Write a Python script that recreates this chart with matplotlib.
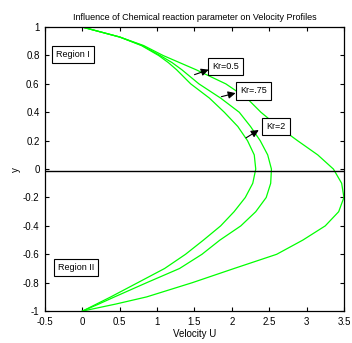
import matplotlib

matplotlib.use("Agg")

import matplotlib.pyplot as plt

plt.rcParams["font.family"] = ["Liberation Sans Narrow", "Liberation Sans", "DejaVu Sans"]

# y positions shared by all three profiles
y_vals = [1.0, 0.93, 0.87, 0.8, 0.75, 0.7, 0.6, 0.5, 0.4, 0.3, 0.2, 0.1, 0.0,
          -0.1, -0.2, -0.3, -0.4, -0.5, -0.6, -0.7, -0.8, -0.9, -0.95, -1.0]

# velocity U for each Kr
u_kr05 = [0.0, 0.5, 0.82, 1.08, 1.3, 1.52, 1.92, 2.2, 2.39, 2.62, 2.88, 3.15, 3.36,
          3.47, 3.5, 3.43, 3.25, 2.95, 2.6, 2.03, 1.47, 0.86, 0.45, 0.0]
u_kr075 = [0.0, 0.5, 0.8, 1.04, 1.2, 1.33, 1.56, 1.85, 2.1, 2.25, 2.38, 2.48, 2.53,
           2.52, 2.46, 2.32, 2.12, 1.84, 1.6, 1.3, 0.86, 0.43, 0.22, 0.0]
u_kr2 = [0.0, 0.5, 0.79, 1.02, 1.15, 1.26, 1.45, 1.7, 1.9, 2.08, 2.21, 2.3, 2.32,
         2.28, 2.18, 2.03, 1.85, 1.62, 1.38, 1.1, 0.74, 0.38, 0.19, 0.0]

kr_labels = ["Kr=0.5", "Kr=.75", "Kr=2"]
kr_text_pos = [(1.92, 0.725), (2.29, 0.55), (2.59, 0.30)]
kr_arrow_tail = [(1.50, 0.665), (1.86, 0.51), (2.19, 0.22)]
kr_arrow_head = [(1.69, 0.70), (2.05, 0.535), (2.36, 0.275)]

region_labels = ["Region I", "Region II"]
region_pos = [(-0.13, 0.805), (-0.09, -0.69)]

zero_line_y = -0.015


def main() -> None:
    fig = plt.figure(figsize=(3.52, 3.43), dpi=100)
    ax = fig.add_axes([0.128, 0.093, 0.849, 0.828])

    for u in (u_kr05, u_kr075, u_kr2):
        ax.plot(u, y_vals, color="#00ff00", linewidth=0.9)

    ax.axhline(zero_line_y, color="black", linewidth=1.0)

    box = dict(boxstyle="square,pad=0.45", facecolor="white", edgecolor="black", linewidth=0.8)
    for label, pos in zip(region_labels, region_pos):
        ax.text(pos[0], pos[1], label, fontsize=6.5, ha="center", va="center", bbox=box)

    for label, pos, tail, head in zip(kr_labels, kr_text_pos, kr_arrow_tail, kr_arrow_head):
        ax.annotate("", xy=head, xytext=tail,
                    arrowprops=dict(arrowstyle="-|>", color="black", lw=0.8,
                                    mutation_scale=11, shrinkA=0, shrinkB=0))
        ax.text(pos[0], pos[1], label, fontsize=6.5, ha="center", va="center", bbox=box)

    ax.set_xlim(-0.5, 3.5)
    ax.set_ylim(-1, 1)
    ax.set_xticks([-0.5, 0, 0.5, 1, 1.5, 2, 2.5, 3, 3.5])
    ax.set_xticklabels(["-0.5", "0", "0.5", "1", "1.5", "2", "2.5", "3", "3.5"])
    ax.set_yticks([-1, -0.8, -0.6, -0.4, -0.2, 0, 0.2, 0.4, 0.6, 0.8, 1])
    ax.set_yticklabels(["-1", "-0.8", "-0.6", "-0.4", "-0.2", "0", "0.2", "0.4", "0.6", "0.8", "1"])
    ax.tick_params(direction="in", length=3, width=0.8, labelsize=7, top=True, right=True)
    ax.tick_params(axis="x", pad=4)
    ax.tick_params(axis="y", pad=4)
    for spine in ax.spines.values():
        spine.set_linewidth(0.9)

    ax.set_xlabel("Velocity U", fontsize=7, labelpad=2)
    ax.set_ylabel("y", fontsize=7, labelpad=1)
    ax.set_title("Influence of Chemical reaction parameter on Velocity Profiles",
                 fontsize=6.5, pad=5)

    fig.savefig("out.png", dpi=100)
    plt.close(fig)


if __name__ == "__main__":
    main()
